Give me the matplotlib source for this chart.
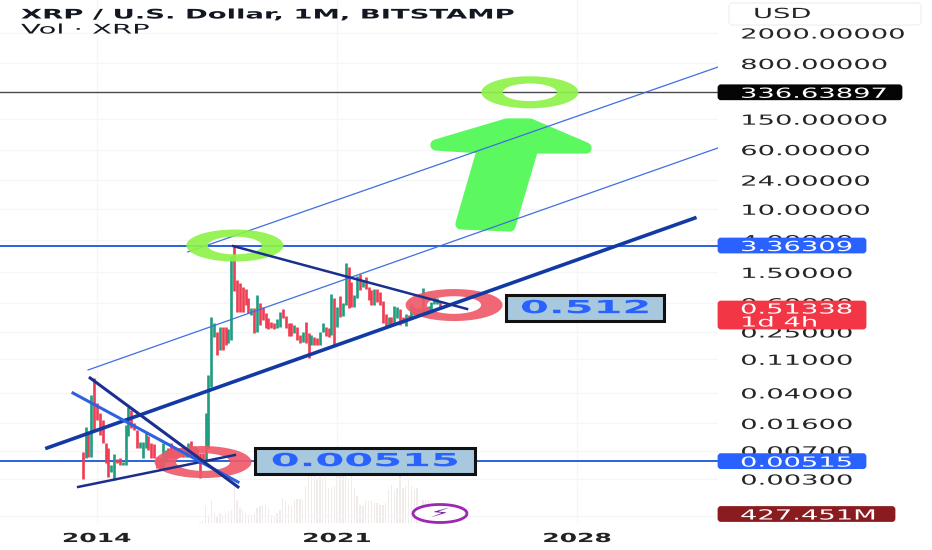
import numpy as np
import pandas as pd
import matplotlib
matplotlib.use('Agg')
import matplotlib.pyplot as plt
from matplotlib.patches import FancyBboxPatch, PathPatch, Polygon, Rectangle
from matplotlib.patheffects import AbstractPathEffect
from matplotlib.path import Path
from matplotlib.transforms import Affine2D, IdentityTransform

# monthly candles, Aug 2013 to Jan 2024
highs = [.00684, .0145, .0121, .0376, .0620, .0292, .0217, .0177, .00879, .00757,
         .00458, .00638, .00543, .00560, .00507, .0152, .0265, .0239, .0160, .0131,
         .00925, .00925, .0119, .0110, .00879, .00860, .00589, .00589, .00879, .00719,
         .00757, .00879, .00757, .00757, .00757, .00779, .00779, .00900, .00950, .00811,
         .00757, .00651, .00651, .0221, .0685, .388, .324, .252, .287, .293,
         .293, .270, 2.45, 3.346, 1.19, 1.08, .957, .900, .687, .508,
         .508, .759, .591, .535, .438, .377, .341, .324, .366, .460,
         .493, .404, .324, .324, .308, .293, .228, .252, .341, .240,
         .228, .217, .206, .252, .324, .293, .279, .782, .687, .523,
         .737, .591, 1.97, 1.75, 1.134, .759, 1.345, 1.43, 1.19, 1.32,
         .975, .884, .900, .900, .840, .640, .429, .396, .388, .546,
         .523, .493, .396, .429, .416, .579, .523, .508, .508, .927,
         .535, .546, .622, .723, .687, .640]
lows = [.00298, .00560, .00577, .00577, .0131, .0177, .0113, .00879, .00482, .00316,
        .00375, .00292, .00482, .00458, .00458, .00458, .0110, .0138, .0131, .00757,
        .00757, .00560, .00757, .00730, .00560, .00560, .00415, .00394, .00402, .00507,
        .00560, .00560, .00560, .00560, .00589, .00589, .00577, .00589, .00589, .00589,
        .00560, .00307, .00522, .00533, .00757, .0483, .217, .125, .145, .145,
        .169, .177, .196, .865, .460, .460, .460, .563, .438, .416,
        .245, .252, .308, .358, .279, .273, .279, .273, .279, .293,
        .377, .279, .221, .221, .240, .196, .177, .186, .177, .113,
        .169, .169, .169, .169, .252, .221, .217, .228, .169, .293,
        .396, .404, .563, .508, .523, .535, .687, .884, .957, .900,
        .654, .563, .563, .622, .563, .331, .287, .308, .308, .324,
        .377, .308, .324, .299, .358, .377, .416, .396, .438, .446,
        .446, .446, .460, .579, .579, .493]
# 1 = green month, 0 = red month
ups = [0, 1, 0, 1, 0, 0, 0, 0, 0, 0,
       1, 1, 0, 0, 1, 1, 1, 0, 0, 0,
       1, 1, 1, 0, 0, 0, 0, 0, 1, 1,
       0, 0, 0, 0, 1, 0, 1, 1, 0, 0,
       0, 0, 0, 1, 1, 1, 1, 0, 1, 0,
       0, 1, 1, 0, 0, 0, 0, 0, 0, 1,
       0, 1, 0, 0, 0, 0, 0, 0, 1, 1,
       0, 0, 0, 0, 1, 0, 0, 1, 0, 0,
       1, 0, 0, 1, 1, 0, 0, 1, 0, 1,
       0, 1, 1, 0, 0, 1, 1, 0, 1, 0,
       0, 0, 1, 0, 0, 0, 0, 1, 0, 1,
       1, 0, 0, 1, 0, 1, 0, 1, 0, 1,
       0, 1, 1, 1, 1, 0]
# volume in millions
volumes = [0, 0, 0, 0, 0, 0, 0, 0, 0, 0,
           0, 0, 0, 0, 0, 0, 0, 0, 0, 0,
           0, 0, 0, 0, 0, 0, 0, 0, 0, 0,
           0, 0, 0, 0, 0, 0, 0, 0, 0, 0,
           20, 40, 80, 790, 395, 1075, 474, 316, 474, 395,
           474, 553, 632, 1738, 1106, 711, 632, 474, 395, 395,
           474, 711, 790, 869, 869, 711, 395, 316, 474, 632,
           1185, 1027, 869, 790, 1106, 1138, 1138, 1106, 1738, 2212,
           2212, 2212, 2133, 2180, 2133, 2180, 1659, 1659, 1738, 2244,
           2291, 2212, 2212, 1975, 2291, 1659, 1264, 869, 790, 1027,
           1027, 1027, 948, 948, 869, 869, 948, 1580, 1817, 1580,
           1659, 2212, 1659, 1738, 2133, 1738, 1580, 1659, 790, 1106,
           1106, 1106, 948, 790, 632, 427]

price_ticks = [2000, 800, 150, 60, 24, 10, 4, 1.5, .6, .25, .11, .04, .016, .007, .003, .001]
price_labels = ['2000.00000', '800.00000', '150.00000', '60.00000', '24.00000', '10.00000',
                '4.00000', '1.50000', '0.60000', '0.25000', '0.11000', '0.04000',
                '0.01600', '0.00700', '0.00300', '0.00100']
year_ticks = [2014, 2021, 2028]

# drawings on the chart: start year, end year, start price, end price
support_x, support_y = [2012.54, 2031.43], [.00764, 7.69]
channel_low_x, channel_low_y = [2013.74, 2032.105], [.0798, 63.2]
channel_up_x, channel_up_y = [2016.65, 2032.105], [2.77, 719]
peak_x, peak_y = [2017.97, 2024.79], [3.31, .499]
base_x, base_y = [2013.45, 2018.02], [.00237, .00619]
dark_x, dark_y = [2013.80, 2018.11], [.0627, .00237]
light_x, light_y = [2013.30, 2018.11], [.0399, .00275]
arrow_x = [2025.95, 2026.62, 2028.26, 2026.71, 2026.04, 2024.61, 2025.25, 2023.88]
arrow_y = [130, 130, 63, 63, 6.04, 6.43, 63, 69]
ring_x = [2018.02, 2026.62, 2017.09, 2024.41]
ring_y = [3.363, 336.6, .00501, .562]
ring_colors = ['#8ef24a', '#8ef24a', '#ef5a69', '#ef5a69']

W, H = 932, 550


class StretchX(AbstractPathEffect):
    # the reference was squeezed vertically, so its letters are wide
    def __init__(self, sx, center=False):
        super().__init__()
        self.sx = sx
        self.center = center

    def draw_path(self, renderer, gc, tpath, affine, rgbFace=None):
        mid = 0
        if self.center:
            ext = tpath.get_extents()
            mid = (ext.x0 + ext.x1) / 2
        stretch = Affine2D().translate(-mid, 0).scale(self.sx, 1).translate(mid, 0)
        renderer.draw_path(gc, tpath, stretch + affine, rgbFace)


fig = plt.figure(figsize=(W / 100, H / 100), dpi=100)
ax = fig.add_axes([0, (H - 523) / H, 718 / W, 523 / H])
ax_vol = ax.twinx()
ax.set_zorder(2)
ax_vol.set_zorder(1)
ax.patch.set_visible(False)

years = [d.year + (d.month - 1) / 12 for d in pd.date_range('2013-08-01', periods=len(highs), freq='MS')]
colors = ['#1f9d7e' if u else '#ee3c52' for u in ups]

ax.set_yscale('log')
ax.set_xlim(2011.172, 2032.105)
ax.set_ylim(0.000802, 5394)
ax_vol.set_ylim(0, 24840)
ax_vol.bar(years, volumes, width=0.04, color='#f1ecea')
ax_vol.set_yticks([])

ax.set_xticks(year_ticks)
ax.set_xticklabels(['2014', '2021', '2028'], fontsize=9, fontweight='bold', color='#222222',
                   path_effects=[StretchX(2.0, center=True)])
ax.set_yticks(price_ticks)
ax.set_yticklabels(price_labels, fontsize=10, color='#262626', path_effects=[StretchX(1.97)])
ax.minorticks_off()
ax.yaxis.tick_right()
ax.tick_params(axis='y', length=0, pad=16)
ax.tick_params(axis='x', length=0, pad=6.5)
for s in list(ax.spines.values()) + list(ax_vol.spines.values()):
    s.set_visible(False)
ax.grid(True, color='#f5f6f7', lw=1)
ax.set_axisbelow(True)

ax.axhline(336.63897, color='#4a4a4a', lw=1, zorder=2)
ax.axhline(3.36309, color='#2a62e0', lw=1.4, zorder=2)
ax.axhline(.00515, color='#2a62e0', lw=1.4, zorder=2)
ax.vlines(years, lows, highs, colors=colors, lw=1.9, zorder=3)

# big green arrow, round corners come from the thick edge
ax.add_patch(Polygon(np.column_stack([arrow_x, arrow_y]), closed=True, facecolor='#5cf85f', edgecolor='#5cf85f',
                     lw=8, joinstyle='round', zorder=3.5))

ax.plot(channel_low_x, channel_low_y, color='#3f6fe0', lw=0.9, zorder=4)
ax.plot(channel_up_x, channel_up_y, color='#3f6fe0', lw=0.9, zorder=4)

# rings are sized in pixels so they stay flat on the log scale
t = np.linspace(0, 2 * np.pi, 100)
for rx_val, ry_val, c in zip(ring_x, ring_y, ring_colors):
    cx, cy = ax.transData.transform((rx_val, ry_val))
    outer = np.column_stack([cx + 48.5 * np.cos(t), cy + 16 * np.sin(t)])
    inner = np.column_stack([cx + 27 * np.cos(t), cy + 8.8 * np.sin(t)])[::-1]
    codes = [Path.MOVETO] + [Path.LINETO] * 99
    ring = Path(np.vstack([outer, inner]), codes + codes)
    ax.add_patch(PathPatch(ring, facecolor=c, edgecolor='none', alpha=0.92, transform=IdentityTransform(), zorder=6))

ax.plot(support_x, support_y, color='#123aa5', lw=2.6, zorder=7)
ax.plot(peak_x, peak_y, color='#1a2f8f', lw=1.8, zorder=7)
ax.plot(base_x, base_y, color='#1c2e8c', lw=1.8, zorder=7)
ax.plot(light_x, light_y, color='#2f62e0', lw=2.2, zorder=7)
ax.plot(dark_x, dark_y, color='#1a2f8f', lw=2.2, zorder=7)


def px_y(price):
    return ax.transData.transform((0, price))[1]


def tag_text(y, label):
    fig.text(740, y, label, color='white', fontsize=10, va='center_baseline', transform=IdentityTransform(),
             path_effects=[StretchX(1.97)], zorder=6)


def tag(y, label, color, width):
    fig.add_artist(FancyBboxPatch((719, y - 6.5), width - 2, 13, boxstyle='round,pad=0,rounding_size=2', facecolor=color,
                                  edgecolor=color, lw=2, transform=IdentityTransform(), zorder=5))
    tag_text(y, label)


tag(px_y(336.63897), '336.63897', '#050505', 184)
tag(px_y(3.36309), '3.36309', '#2962ff', 148)
tag(px_y(.00515), '0.00515', '#2962ff', 148)
tag(ax_vol.transData.transform((0, 427.451))[1], '427.451M', '#8a1c20', 177)

# last price tag has the countdown under it
y_last = px_y(.51338)
fig.add_artist(FancyBboxPatch((719, y_last - 20), 146, 26, boxstyle='round,pad=0,rounding_size=2', facecolor='#f23645',
                              edgecolor='#f23645', lw=2, transform=IdentityTransform(), zorder=5))
tag_text(y_last, '0.51338')
tag_text(y_last - 13, '1d 4h')


def callout(year, price, label, width):
    cx, cy = ax.transData.transform((year, price))
    fig.add_artist(Rectangle((cx - width / 2, cy - 13), width, 26, facecolor='#a8c8de', edgecolor='#111111', lw=2.2,
                             transform=IdentityTransform(), zorder=5))
    fig.text(cx, cy, label, color='#2962ff', fontsize=13, fontweight='bold', ha='center', va='center',
             transform=IdentityTransform(), path_effects=[StretchX(2.3, center=True)], zorder=6)


callout(2021.81, .00515, '0.00515', 220)
callout(2028.23, .512, '0.512', 158)

# header, currency button and the small lightning badge
fig.text(21, H - 15, 'XRP / U.S. Dollar, 1M, BITSTAMP', fontsize=9.5, fontweight='bold', color='#131722', va='center',
         transform=IdentityTransform(), path_effects=[StretchX(2.08)], zorder=6)
fig.text(21, H - 30, 'Vol · XRP', fontsize=9.5, color='#131722', va='center', transform=IdentityTransform(),
         path_effects=[StretchX(2.2)], zorder=6)
fig.add_artist(FancyBboxPatch((729, H - 25), 192, 22, boxstyle='round,pad=0,rounding_size=4', facecolor='white',
                              edgecolor='#f0f1f3', lw=1, transform=IdentityTransform(), zorder=5))
fig.text(753, H - 14, 'USD', fontsize=10, color='#262626', va='center', transform=IdentityTransform(),
         path_effects=[StretchX(1.97)], zorder=6)

badge = Path(np.column_stack([440 + 27 * np.cos(t), H - 513.5 + 9 * np.sin(t)]))
fig.add_artist(PathPatch(badge, facecolor='white', edgecolor='#9c27b0', lw=2, transform=IdentityTransform(), zorder=5))
fig.text(440, H - 513.5, '⚡', fontsize=9, color='#7b1fa2', ha='center', va='center', transform=IdentityTransform(),
         path_effects=[StretchX(2.4, center=True)], zorder=6)

fig.savefig('out.png', dpi=100)
